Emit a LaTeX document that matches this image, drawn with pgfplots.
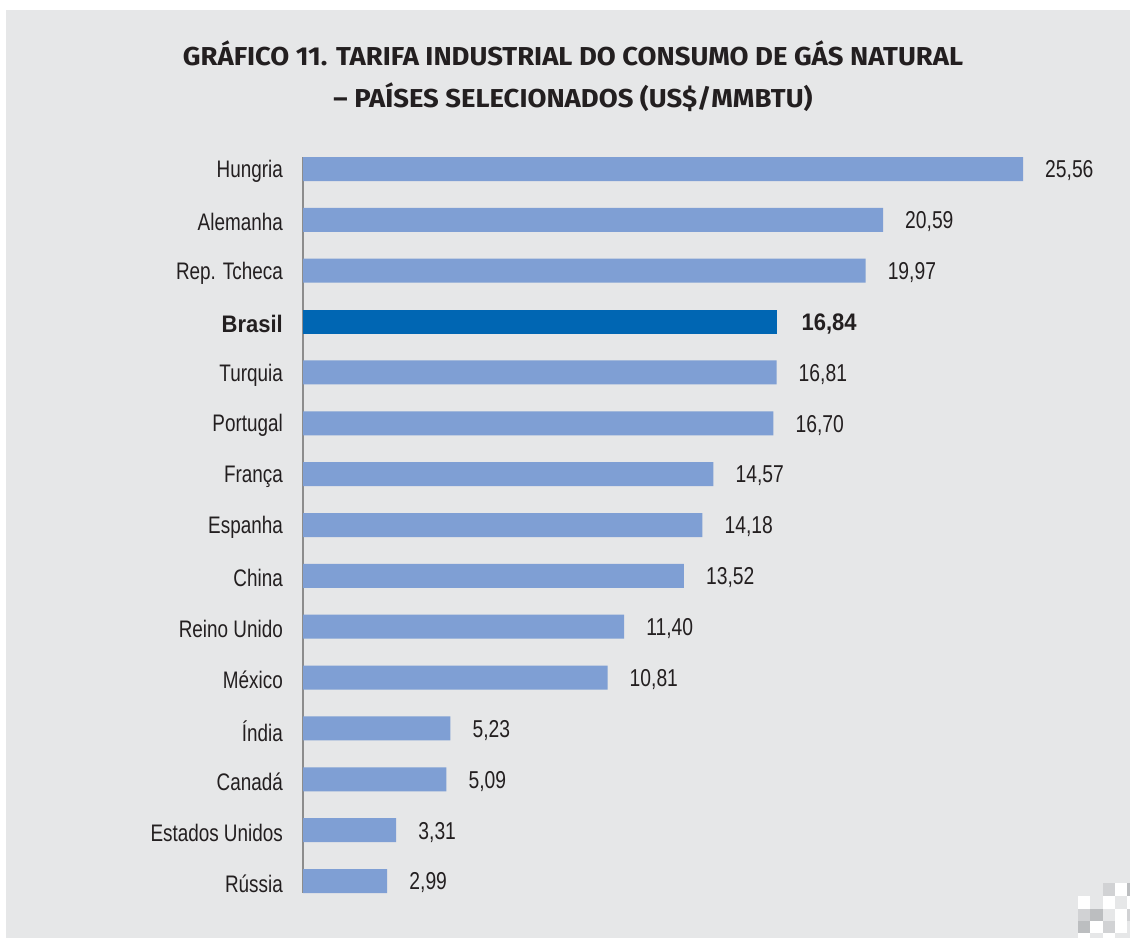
\documentclass[border=0pt]{standalone}
\usepackage{fontspec}
\setmainfont{Liberation Sans}[FakeStretch=0.79]
\newfontfamily\boldfont{Liberation Sans}[FakeStretch=0.92]
\newfontfamily\titlefont{Fira Sans}[FakeStretch=1.06]
\usepackage{pgfplots}
\pgfplotsset{compat=1.18}
\definecolor{bg}{HTML}{E6E7E8}
\definecolor{barlight}{HTML}{7F9FD4}
\definecolor{bardark}{HTML}{0066B3}
\definecolor{axisgray}{HTML}{8C8C8C}
\definecolor{txt}{HTML}{231F20}
\definecolor{chk1}{HTML}{D1D2D4}
\definecolor{chk2}{HTML}{BCBEC0}
\begin{document}
\begin{tikzpicture}[x=1bp,y=1bp]
\fill[white] (0,0) rectangle (1130,-938);
\useasboundingbox (0,0) rectangle (1130,-938);
\fill[bg] (6,-10) rectangle (1130,-938);
% checkerboard decoration
\fill[chk1] (1103,-883) rectangle (1115,-896);
\fill[white] (1115,-883) rectangle (1127,-896);
\fill[chk2] (1127,-883) rectangle (1130,-896);
\fill[white] (1078,-896) rectangle (1090,-909);
\fill[white] (1103,-896) rectangle (1115,-909);
\fill[white] (1127,-896) rectangle (1130,-909);
\fill[chk1] (1078,-909) rectangle (1090,-921);
\fill[chk2] (1090,-909) rectangle (1103,-921);
\fill[white] (1115,-909) rectangle (1127,-921);
\fill[chk1] (1127,-909) rectangle (1130,-921);
\fill[chk2] (1078,-921) rectangle (1090,-933);
\fill[white] (1090,-921) rectangle (1103,-933);
\fill[chk1] (1103,-921) rectangle (1115,-933);
\fill[white] (1115,-921) rectangle (1127,-933);
\fill[white] (1078,-933) rectangle (1090,-938);
\fill[white] (1103,-933) rectangle (1115,-938);
% title
\node[anchor=base, text=txt, font=\titlefont\bfseries\fontsize{26}{26}\selectfont, inner sep=0] at (573,-65) {GRÁFICO 11. TARIFA INDUSTRIAL DO CONSUMO DE GÁS NATURAL};
\node[anchor=base, text=txt, font=\titlefont\bfseries\fontsize{26}{26}\selectfont, inner sep=0] at (573,-107) {– PAÍSES SELECIONADOS (US\$/MMBTU)};
\begin{axis}[
  at={(303bp,-157bp)}, anchor=north west,
  scale only axis, width=720bp, height=736bp,
  xbar, bar width=24bp, bar shift=0pt,
  xmin=0, xmax=25.56, ymin=-0.236, ymax=14.236, y dir=reverse,
  axis x line=none, axis y line*=left,
  y axis line style={draw=axisgray, line width=2bp},
  ytick={0,...,14},
  yticklabels={Hungria,Alemanha,Rep. Tcheca,{\boldfont\bfseries Brasil},Turquia,Portugal,França,Espanha,China,Reino Unido,México,Índia,Canadá,Estados Unidos,Rússia},
  major tick length=0pt,
  yticklabel style={anchor=east, inner sep=0pt, xshift=-20bp, yshift=-2.5bp, text=txt, font=\fontsize{24}{24}\selectfont},
  nodes near coords,
  every node near coord/.append style={anchor=west, inner sep=0pt, xshift=22bp, yshift=-2bp, text=txt, font=\fontsize{24.5}{24.5}\selectfont},
  /pgf/number format/.cd, use comma, fixed, fixed zerofill, precision=2, assume math mode=true,
  /pgfplots/.cd,
  clip=false,
]
\addplot[fill=barlight, draw=none] coordinates {
 (25.56,0) (20.59,1) (19.97,2) (16.81,4) (16.70,5) (14.57,6) (14.18,7) (13.52,8) (11.40,9) (10.81,10) (5.23,11) (5.09,12) (3.31,13) (2.99,14)
};
\addplot[fill=bardark, draw=none, every node near coord/.append style={font=\boldfont\bfseries\fontsize{24}{24}\selectfont, xshift=2bp}] coordinates {
 (16.84,3)
};
\end{axis}
\end{tikzpicture}
\end{document}
